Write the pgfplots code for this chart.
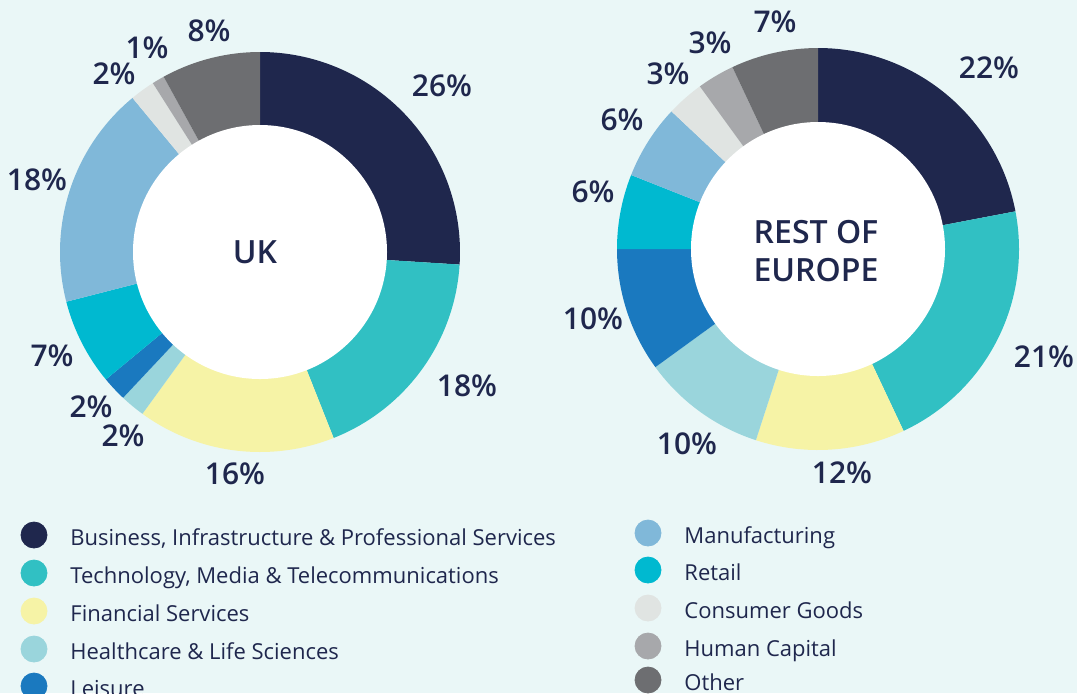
\documentclass[border=0pt]{standalone}
\usepackage{fontspec}
\setmainfont{Open Sans}
\IfFontExistsTF{Open Sans SemiBold}{\newfontfamily\semib{Open Sans SemiBold}}{%
  \IfFontExistsTF{Open Sans Semibold}{\newfontfamily\semib{Open Sans Semibold}}{\newcommand\semib{\bfseries}}}
\usepackage{pgfplots}
\usepackage{pgfplotstable}
\pgfplotsset{compat=1.18}
\definecolor{bg}{HTML}{EAF7F7}
\definecolor{txt}{HTML}{1F274D}
\definecolor{c0}{HTML}{1F274D}
\definecolor{c1}{HTML}{31C0C3}
\definecolor{c2}{HTML}{F6F3A6}
\definecolor{c3}{HTML}{9AD5DC}
\definecolor{c4}{HTML}{1A79BF}
\definecolor{c5}{HTML}{00B9D0}
\definecolor{c6}{HTML}{80B8D9}
\definecolor{c7}{HTML}{E0E4E2}
\definecolor{c8}{HTML}{A7A8AB}
\definecolor{c9}{HTML}{6D6E71}
% order clockwise from 12 o'clock
\pgfplotstableread{
idx uk eu ukx uky eux euy
0 26 22 442 86 989 68
1 18 21 467 386 1044 357
2 16 12 235 474 842 473
3 2 10 123 436 687 444
4 2 10 91 407 593 319
5 7 6 52 356 593 192
6 18 6 37 180 622 120
7 2 3 114 74 668 74
8 1 3 147 48 710 43
9 8 7 209 31 775 22
}\sectors
\newcommand\drawdonut[4]{%
  \gdef\cum{0}%
  \foreach \i in {0,...,9}{%
    \pgfplotstablegetelem{\i}{#1}\of\sectors
    \pgfmathsetmacro\angA{90-3.6*\cum}%
    \pgfmathsetmacro\angB{90-3.6*(\cum+\pgfplotsretval)}%
    \fill[c\i] (axis cs:#2,#3) -- ++(\angA:#4) arc[start angle=\angA, end angle=\angB, radius=#4] -- cycle;
    \pgfmathsetmacro\newcum{\cum+\pgfplotsretval}%
    \xdef\cum{\newcum}%
  }}
\begin{document}
\begin{tikzpicture}
\begin{axis}[
  x=0.5pt, y=0.5pt, y dir=reverse,
  xmin=0, xmax=1077, ymin=0, ymax=693,
  hide axis, clip=false, scale only axis,
]
\pgfplotsextra{\fill[bg] (axis cs:0,0) rectangle (axis cs:1077,693);}
\pgfplotsextra{\drawdonut{uk}{260}{252}{100pt}\fill[white] (axis cs:260,252) circle[radius=63.5pt];}
\pgfplotsextra{\drawdonut{eu}{818}{249}{100.5pt}\fill[white] (axis cs:818,249) circle[radius=63.5pt];}
% percentage labels
\addplot[draw=none, mark=none, point meta=explicit symbolic,
  nodes near coords={\pgfplotspointmeta\%},
  nodes near coords style={anchor=center, text=txt, font=\semib\fontsize{15}{18}\selectfont, inner sep=0pt}]
  table[x=ukx, y=uky, meta=uk] {\sectors};
\addplot[draw=none, mark=none, point meta=explicit symbolic,
  nodes near coords={\pgfplotspointmeta\%},
  nodes near coords style={anchor=center, text=txt, font=\semib\fontsize{15}{18}\selectfont, inner sep=0pt}]
  table[x=eux, y=euy, meta=eu] {\sectors};
% centre titles
\node[text=txt, font=\semib\fontsize{16}{19}\selectfont, inner sep=0pt] at (axis cs:255,252) {UK};
\node[text=txt, font=\semib\fontsize{16}{19}\selectfont, align=center, inner sep=0pt] at (axis cs:816,251) {REST OF\\EUROPE};
% legend markers
\addplot[only marks, mark=*, mark size=6.5pt, c0] coordinates {(34,535)};
\addplot[only marks, mark=*, mark size=6.5pt, c1] coordinates {(34,573)};
\addplot[only marks, mark=*, mark size=6.5pt, c2] coordinates {(34,611)};
\addplot[only marks, mark=*, mark size=6.5pt, c3] coordinates {(34,649)};
\addplot[only marks, mark=*, mark size=6.5pt, c4] coordinates {(34,686)};
\addplot[only marks, mark=*, mark size=6.5pt, c6] coordinates {(648,533)};
\addplot[only marks, mark=*, mark size=6.5pt, c5] coordinates {(648,570)};
\addplot[only marks, mark=*, mark size=6.5pt, c7] coordinates {(648,608)};
\addplot[only marks, mark=*, mark size=6.5pt, c8] coordinates {(648,646)};
\addplot[only marks, mark=*, mark size=6.5pt, c9] coordinates {(648,680)};
% legend texts
\pgfplotsextra{%
\begin{scope}[every node/.style={anchor=base west, text=txt, font=\fontsize{11}{13}\selectfont, inner sep=0pt}]
\node at (axis cs:70,545) {Business, Infrastructure \& Professional Services};
\node at (axis cs:70,583) {Technology, Media \& Telecommunications};
\node at (axis cs:70,621) {Financial Services};
\node at (axis cs:70,659) {Healthcare \& Life Sciences};
\node at (axis cs:70,696) {Leisure};
\node at (axis cs:684,543) {Manufacturing};
\node at (axis cs:684,580) {Retail};
\node at (axis cs:684,618) {Consumer Goods};
\node at (axis cs:684,656) {Human Capital};
\node at (axis cs:684,690) {Other};
\end{scope}}
\end{axis}
\pgfresetboundingbox
\path[use as bounding box] (current axis.south west) rectangle (current axis.north east);
\end{tikzpicture}
\end{document}
